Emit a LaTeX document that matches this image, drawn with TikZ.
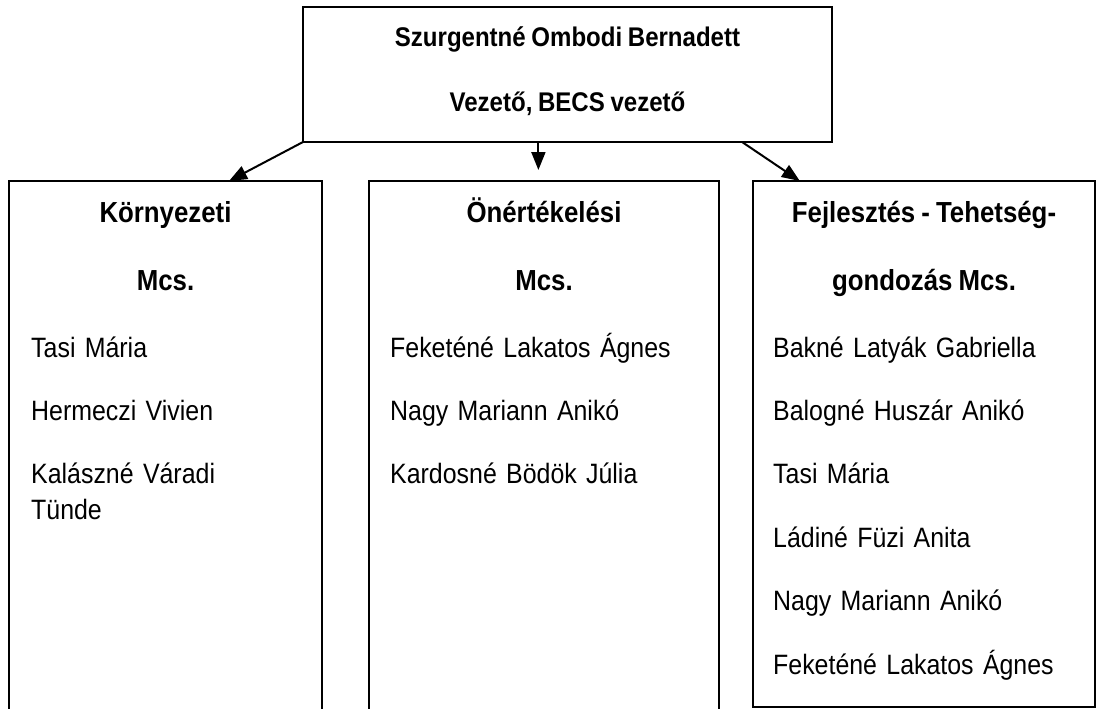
\documentclass[tikz,border=0pt]{standalone}
\usepackage{fontspec}
\setmainfont{Liberation Sans}[FakeStretch=0.89, WordSpace=0.85]
\usetikzlibrary{positioning, calc, arrows.meta}

\begin{document}
\begin{tikzpicture}[x=1pt, y=-1pt, node distance={38pt},
  panel/.style = {inner sep=0pt, outer sep=0pt},
  frame/.style = {line width=1.5pt},
  chief/.style = {font=\fontsize{27pt}{30pt}\selectfont\bfseries, anchor=base, inner sep=0pt},
  head/.style = {font=\fontsize{29pt}{30pt}\selectfont\bfseries, anchor=base, inner sep=0pt},
  member/.style = {font=\fontsize{28pt}{36pt}\selectfont, inner sep=0pt, text width=290pt, align=left, text height=19pt, text depth=6pt},
  link/.style = {line width=2pt, -{Triangle[length=18pt, width=14pt]}}]
\useasboundingbox (0,0) rectangle (1096,709);

% leader
\node[panel, draw, frame, minimum width=529pt, minimum height=135pt] (boss) at (567.5,74.5) {};
\node[chief] (bossname) at (567.5,47) {Szurgentné Ombodi Bernadett};
\node[chief] (bossrole) at (567.5,112) {Vezető, BECS vezető};

% work groups
\node[panel, minimum width=313pt, minimum height=528pt] (env) at (165.5,445) {};
\node[panel, minimum width=350pt, minimum height=528pt] (self) at (544,445) {};
\node[panel, draw, frame, minimum width=342pt, minimum height=526pt] (dev) at (924,444) {};
\draw[frame] (env.south west) -- (env.north west) -- (env.north east) -- (env.south east);
\draw[frame] (self.south west) -- (self.north west) -- (self.north east) -- (self.south east);

\node[head] (envA) at (165.5,222) {Környezeti};
\node[head] (envB) at (165.5,290) {Mcs.};
\node[head] (selfA) at (544,222) {Önértékelési};
\node[head] (selfB) at (544,290) {Mcs.};
\node[head] (devA) at (924,222) {Fejlesztés - Tehetség-};
\node[head] (devB) at (924,290) {gondozás Mcs.};

\node[member, anchor=base west] (env1) at (31,357) {Tasi Mária};
\node[member] (env2) [below=of env1] {Hermeczi Vivien};
\node[member, text depth=42pt] (env3) [below=of env2] {Kalászné Váradi\\Tünde};

\node[member, anchor=base west] (self1) at (390,357) {Feketéné Lakatos Ágnes};
\node[member] (self2) [below=of self1] {Nagy Mariann Anikó};
\node[member] (self3) [below=of self2] {Kardosné Bödök Júlia};

\node[member, anchor=base west] (dev1) at (773,357) {Bakné Latyák Gabriella};
\node[member] (dev2) [below=of dev1] {Balogné Huszár Anikó};
\node[member] (dev3) [below=of dev2] {Tasi Mária};
\node[member] (dev4) [below=of dev3] {Ládiné Füzi Anita};
\node[member] (dev5) [below=of dev4] {Nagy Mariann Anikó};
\node[member] (dev6) [below=of dev5] {Feketéné Lakatos Ágnes};

% arrows
\coordinate (midfoot) at ($(boss.south west)!0.445!(boss.south east)$);
\draw[link] (boss.south west) -- ($(env.north west)!0.703!(env.north east)$);
\draw[link, shorten >=11pt] (midfoot) -- (midfoot |- self.north);
\draw[link] ($(boss.south west)!0.83!(boss.south east)$) -- ($(dev.north west)!0.137!(dev.north east)$);
\end{tikzpicture}
\end{document}
